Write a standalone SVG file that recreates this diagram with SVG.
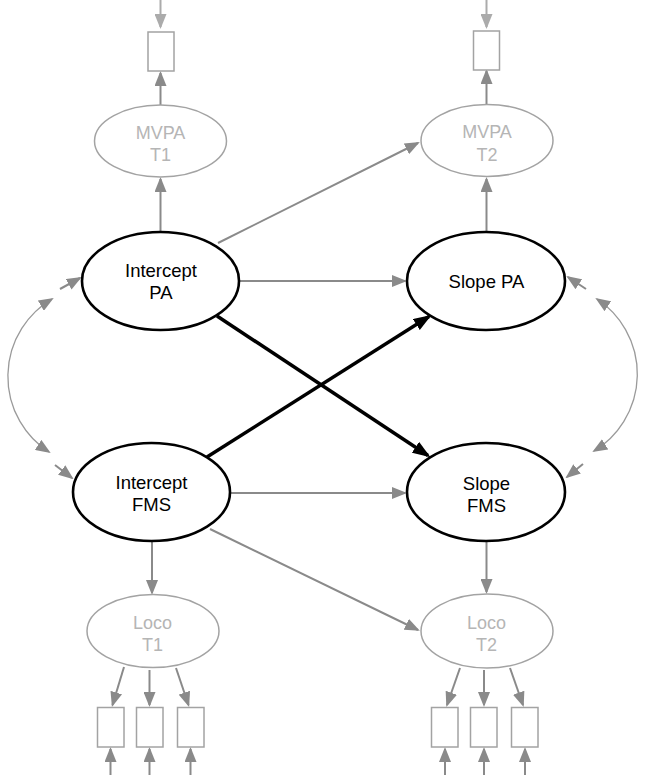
<svg xmlns="http://www.w3.org/2000/svg" width="646" height="780" viewBox="0 0 646 780">
  <style>
    .lat { fill: #ffffff; stroke: #000000; stroke-width: 2.6; }
    .obs { fill: #ffffff; stroke: #a3a3a3; stroke-width: 1.5; }
    .box { fill: #ffffff; stroke: #a3a3a3; stroke-width: 1.5; }
    .t { font-family: "Liberation Sans", Arial, sans-serif; font-size: 18.5px; text-anchor: middle; fill: #000000; }
    .tl { font-family: "Liberation Sans", Arial, sans-serif; font-size: 18px; text-anchor: middle; fill: #b5b5b5; }
    .g { fill: none; stroke: #8a8a8a; stroke-width: 2; marker-end: url(#ag); }
    .gl { fill: none; stroke: #ababab; stroke-width: 2; marker-end: url(#agl); }
    .b { fill: none; stroke: #000000; stroke-width: 3.5; marker-end: url(#ab); }
    .arc { fill: none; stroke: #9a9a9a; stroke-width: 1.3; marker-start: url(#aa); marker-end: url(#aa); }
  </style>
  <defs>
    <marker id="ag" markerUnits="userSpaceOnUse" markerWidth="15" markerHeight="12" viewBox="0 0 15 12" refX="13" refY="6" orient="auto">
      <path d="M0,0 L15,6 L0,12 z" fill="#8a8a8a"/>
    </marker>
    <marker id="agl" markerUnits="userSpaceOnUse" markerWidth="15" markerHeight="12" viewBox="0 0 15 12" refX="13" refY="6" orient="auto">
      <path d="M0,0 L15,6 L0,12 z" fill="#ababab"/>
    </marker>
    <marker id="ab" markerUnits="userSpaceOnUse" markerWidth="18" markerHeight="13" viewBox="0 0 18 13" refX="15" refY="6.5" orient="auto">
      <path d="M0,0 L18,6.5 L0,13 z" fill="#000000"/>
    </marker>
    <marker id="aa" markerUnits="userSpaceOnUse" markerWidth="15" markerHeight="12" viewBox="0 0 15 12" refX="13" refY="6" orient="auto-start-reverse">
      <path d="M0,0 L15,6 L0,12 z" fill="#8a8a8a"/>
    </marker>
  </defs>

  <g id="connectors">
    <!-- external arrows into top indicators -->
    <line class="gl" x1="160.5" y1="0" x2="160.5" y2="27"/>
    <line class="gl" x1="486.5" y1="0" x2="486.5" y2="27"/>
    <!-- MVPA to indicators -->
    <line class="g" x1="160.5" y1="105" x2="160.5" y2="73"/>
    <line class="g" x1="486.5" y1="104" x2="486.5" y2="71"/>
    <!-- growth factors to MVPA -->
    <line class="g" x1="160.5" y1="232" x2="160.5" y2="179"/>
    <line class="g" x1="486.5" y1="232" x2="486.5" y2="179"/>
    <line class="g" x1="218" y1="243" x2="418" y2="143"/>
    <!-- horizontal -->
    <line class="g" x1="239" y1="281" x2="405" y2="281"/>
    <line class="g" x1="230" y1="493" x2="405" y2="493"/>
    <!-- crossing -->
    <line class="b" x1="217" y1="316" x2="428" y2="455.5"/>
    <line class="b" x1="207" y1="457" x2="429" y2="316.5"/>
    <!-- to Loco -->
    <line class="g" x1="152" y1="541" x2="152" y2="593"/>
    <line class="g" x1="486.5" y1="541" x2="486.5" y2="592"/>
    <line class="g" x1="210" y1="529" x2="418" y2="630"/>
    <!-- Loco T1 to indicators -->
    <line class="g" x1="124" y1="667" x2="112.5" y2="705"/>
    <line class="g" x1="149.5" y1="670" x2="149.5" y2="705"/>
    <line class="g" x1="176" y1="668" x2="188.5" y2="705"/>
    <!-- Loco T2 to indicators -->
    <line class="g" x1="460" y1="668" x2="447" y2="705"/>
    <line class="g" x1="484" y1="670" x2="484" y2="705"/>
    <line class="g" x1="510" y1="668" x2="523" y2="705"/>
    <!-- external arrows into bottom indicators -->
    <line class="g" x1="110.5" y1="775" x2="110.5" y2="749"/>
    <line class="g" x1="149.5" y1="775" x2="149.5" y2="749"/>
    <line class="g" x1="190.5" y1="775" x2="190.5" y2="749"/>
    <line class="g" x1="445" y1="775" x2="445" y2="749"/>
    <line class="g" x1="484" y1="775" x2="484" y2="749"/>
    <line class="g" x1="525" y1="775" x2="525" y2="749"/>
    <!-- covariance arcs -->
    <path class="arc" d="M 52 299 A 90 90 0 0 0 49 452"/>
    <path class="arc" d="M 597 299 A 90 90 0 0 1 594 451"/>
    <!-- short arrows at arc ends -->
    <line class="g" x1="60" y1="289" x2="80" y2="278"/>
    <line class="g" x1="55" y1="465" x2="72" y2="478"/>
    <line class="g" x1="586" y1="289" x2="568" y2="277"/>
    <line class="g" x1="583" y1="464" x2="567" y2="477"/>
  </g>

  <g id="mvpa_t1_ind"><rect class="box" x="148" y="32" width="26" height="39"/></g>
  <g id="mvpa_t2_ind"><rect class="box" x="473.5" y="31" width="26" height="39"/></g>

  <g id="mvpa_t1">
    <ellipse class="obs" cx="160.5" cy="141" rx="66" ry="36"/>
    <text class="tl" x="160.5" y="138.5">MVPA</text>
    <text class="tl" x="160.5" y="161">T1</text>
  </g>
  <g id="mvpa_t2">
    <ellipse class="obs" cx="487" cy="140.5" rx="66" ry="36"/>
    <text class="tl" x="487" y="138">MVPA</text>
    <text class="tl" x="487" y="160.5">T2</text>
  </g>

  <g id="intercept_pa">
    <ellipse class="lat" cx="160.5" cy="281" rx="78.5" ry="49"/>
    <text class="t" x="161" y="277">Intercept</text>
    <text class="t" x="161" y="298.5">PA</text>
  </g>
  <g id="slope_pa">
    <ellipse class="lat" cx="486" cy="281" rx="79" ry="49"/>
    <text class="t" x="486.5" y="287.5">Slope PA</text>
  </g>
  <g id="intercept_fms">
    <ellipse class="lat" cx="151.5" cy="492" rx="78.5" ry="49"/>
    <text class="t" x="151.5" y="489">Intercept</text>
    <text class="t" x="151.5" y="511">FMS</text>
  </g>
  <g id="slope_fms">
    <ellipse class="lat" cx="486" cy="492" rx="79" ry="49"/>
    <text class="t" x="486.5" y="489.5">Slope</text>
    <text class="t" x="486.5" y="511.5">FMS</text>
  </g>

  <g id="loco_t1">
    <ellipse class="obs" cx="153" cy="631" rx="66" ry="36.5"/>
    <text class="tl" x="152.5" y="629">Loco</text>
    <text class="tl" x="152.5" y="651">T1</text>
  </g>
  <g id="loco_t2">
    <ellipse class="obs" cx="487" cy="631" rx="66" ry="37"/>
    <text class="tl" x="486.5" y="629">Loco</text>
    <text class="tl" x="486.5" y="651">T2</text>
  </g>

  <g id="loco_t1_ind1"><rect class="box" x="97.5" y="707.5" width="26.5" height="39.5"/></g>
  <g id="loco_t1_ind2"><rect class="box" x="136.5" y="707.5" width="26.5" height="39.5"/></g>
  <g id="loco_t1_ind3"><rect class="box" x="177.5" y="707.5" width="26.5" height="39.5"/></g>
  <g id="loco_t2_ind1"><rect class="box" x="431.5" y="707.5" width="26.5" height="39.5"/></g>
  <g id="loco_t2_ind2"><rect class="box" x="470.5" y="707.5" width="26.5" height="39.5"/></g>
  <g id="loco_t2_ind3"><rect class="box" x="511.5" y="707.5" width="26.5" height="39.5"/></g>
</svg>
